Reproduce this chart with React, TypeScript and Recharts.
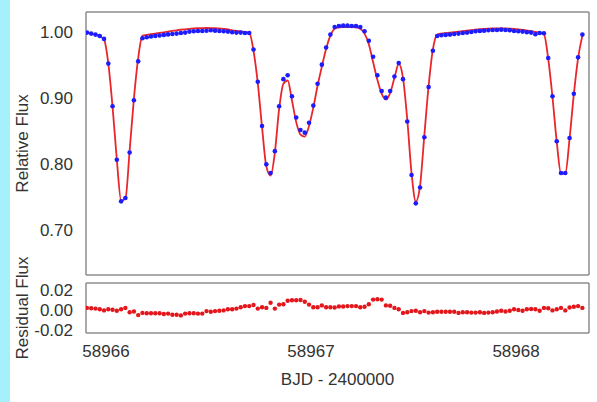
import React from 'react';
import { ComposedChart, Line, XAxis, YAxis } from 'recharts';

// BJD - 2400000, 30 min cadence
const bjd = [
  58965.907, 58965.9278, 58965.9487, 58965.9695, 58965.9903, 58966.0112, 58966.032, 58966.0528,
  58966.0737, 58966.0945, 58966.1153, 58966.1362, 58966.157, 58966.1778, 58966.1987, 58966.2195,
  58966.2403, 58966.2612, 58966.282, 58966.3028, 58966.3237, 58966.3445, 58966.3653, 58966.3862,
  58966.407, 58966.4278, 58966.4487, 58966.4695, 58966.4903, 58966.5112, 58966.532, 58966.5528,
  58966.5737, 58966.5945, 58966.6153, 58966.6362, 58966.657, 58966.6778, 58966.6987, 58966.7195,
  58966.7403, 58966.7612, 58966.782, 58966.8028, 58966.8237, 58966.8445, 58966.8653, 58966.8862,
  58966.907, 58966.9278, 58966.9487, 58966.9695, 58966.9903, 58967.0112, 58967.032, 58967.0528,
  58967.0737, 58967.0945, 58967.1153, 58967.1362, 58967.157, 58967.1778, 58967.1987, 58967.2195,
  58967.2403, 58967.2612, 58967.282, 58967.3028, 58967.3237, 58967.3445, 58967.3653, 58967.3862,
  58967.407, 58967.4278, 58967.4487, 58967.4695, 58967.4903, 58967.5112, 58967.532, 58967.5528,
  58967.5737, 58967.5945, 58967.6153, 58967.6362, 58967.657, 58967.6778, 58967.6987, 58967.7195,
  58967.7403, 58967.7612, 58967.782, 58967.8028, 58967.8237, 58967.8445, 58967.8653, 58967.8862,
  58967.907, 58967.9278, 58967.9487, 58967.9695, 58967.9903, 58968.0112, 58968.032, 58968.0528,
  58968.0737, 58968.0945, 58968.1153, 58968.1362, 58968.157, 58968.1778, 58968.1987, 58968.2195,
  58968.2403, 58968.2612, 58968.282, 58968.3028, 58968.3237,
];

const relFlux = [
  0.9995, 0.998, 0.9965, 0.9944, 0.99, 0.9526, 0.888, 0.807, 0.744, 0.749, 0.818, 0.897, 0.956,
  0.991, 0.9925, 0.9935, 0.9945, 0.9952, 0.996, 0.9968, 0.9975, 0.998, 0.9988, 0.9995, 1.001, 1.0015,
  1.002, 1.002, 1.0022, 1.003, 1.0025, 1.002, 1.0015, 1.001, 1.0, 0.9995, 0.9995, 0.999, 0.999,
  0.974, 0.925, 0.858, 0.8, 0.787, 0.82, 0.888, 0.929, 0.935, 0.903, 0.871, 0.852, 0.848, 0.863,
  0.889, 0.922, 0.951, 0.977, 0.9965,
  1.008, 1.0095, 1.01, 1.01, 1.0095, 1.0095, 1.008, 1.0015,
  0.987, 0.963, 0.935, 0.911, 0.901, 0.911, 0.933, 0.9535, 0.929, 0.865, 0.784, 0.741, 0.765, 0.841,
  0.917, 0.972, 0.9944,
  0.9955, 0.996, 0.9965, 0.9975, 0.998, 0.999, 0.9995, 1.0005, 1.0015, 1.002, 1.0025, 1.003, 1.0035,
  1.0035, 1.004, 1.0035, 1.003, 1.002, 1.0015, 1.001, 1.0, 0.9995, 0.997, 0.999, 0.9985,
  0.961, 0.903, 0.835, 0.787, 0.787, 0.84, 0.907, 0.962, 0.9965,
];

const modelFlux = [
  0.9995, 0.998, 0.9963, 0.994, 0.989, 0.953, 0.887, 0.807, 0.745, 0.748, 0.821, 0.9, 0.961,
  0.9948, 0.996, 0.997, 0.998, 0.999, 1.0, 1.001, 1.002, 1.003, 1.0038, 1.0045, 1.0052, 1.0057,
  1.0061, 1.0064, 1.0065, 1.0064, 1.0061, 1.0057, 1.0051, 1.0044, 1.003, 1.002, 1.0012, 1.0005, 0.9995,
  0.972, 0.923, 0.856, 0.797, 0.783, 0.818, 0.884, 0.922, 0.927, 0.897, 0.864, 0.845, 0.842, 0.858,
  0.886, 0.919, 0.948, 0.975, 0.995,
  1.0055, 1.0075, 1.008, 1.008, 1.008, 1.0075, 1.0055, 0.998,
  0.982, 0.955, 0.928, 0.907, 0.898, 0.908, 0.931, 0.952, 0.931, 0.868, 0.787, 0.744, 0.768, 0.844,
  0.919, 0.974, 0.9965,
  0.998, 0.9988, 0.9995, 1.0003, 1.001, 1.0018, 1.0026, 1.0034, 1.0041, 1.0047, 1.0052, 1.0056, 1.0059,
  1.006, 1.006, 1.0059, 1.0056, 1.0052, 1.0045, 1.0037, 1.0028, 1.0018, 1.0005, 0.9992, 0.997,
  0.96, 0.902, 0.834, 0.786, 0.786, 0.839, 0.906, 0.961, 0.995,
];

const residFlux = [
  0.0016, 0.0013, 0.0009, 0.0002, -0.0009, 0.0002, -0.0002, -0.0013, 0.0002, 0.0016, -0.0027, -0.002, -0.0056,
  -0.0034, -0.0038, -0.0038, -0.0038, -0.0038, -0.0045, -0.0041, -0.0052, -0.0052, -0.0059, -0.0041, -0.0038,
  -0.0038, -0.0041, -0.0041, -0.0016, -0.0023, -0.0016, -0.0013, -0.0009, 0.0002, 0.0002, 0.0009, 0.0023,
  0.0034, 0.0034,
  0.0045, 0.0009, 0.0023, 0.0016, 0.0067, 0.0009, 0.0049, 0.0052, 0.0088, 0.0092, 0.0092, 0.0095, 0.0077,
  0.0049, 0.0023, 0.0023, 0.0041, 0.0023, 0.0023, 0.002,
  0.0031, 0.003, 0.0034, 0.0034, 0.0034, 0.0023, 0.0027, 0.0052, 0.0099, 0.0102, 0.0099, 0.0041, 0.0038,
  0.0016, 0.0002, -0.0034, -0.0027, -0.0016, -0.0013, -0.0027, -0.0016, -0.0031, -0.0027, -0.0023, -0.0023,
  -0.0023, -0.0023, -0.0023, -0.0034, -0.0027, -0.0027, -0.0031, -0.0031, -0.0027, -0.0034, -0.0031, -0.0027,
  -0.002, -0.0013, -0.002, -0.0013, 0.0002, -0.0005, -0.0013, 0.0002, 0.0005, 0.0002, -0.0013, 0.0016,
  0.0013, -0.0009, 0.0002, 0.0016, -0.0009, 0.002, 0.0027, 0.0034, 0.0016,
];

const dayTicks = [58966, 58967, 58968];
const minorDayTicks = [
  58966, 58966.2, 58966.4, 58966.6, 58966.8, 58967, 58967.2, 58967.4, 58967.6, 58967.8, 58968, 58968.2,
];
const fluxTicks = [0.7, 0.8, 0.9, 1.0];
const minorFluxTicks = [
  0.64, 0.66, 0.68, 0.7, 0.72, 0.74, 0.76, 0.78, 0.8, 0.82, 0.84, 0.86, 0.88, 0.9, 0.92, 0.94, 0.96, 0.98,
  1.0, 1.02,
];
const residTicks = [-0.02, 0, 0.02];
const minorResidTicks = [-0.02, -0.01, 0, 0.01, 0.02];

const rows = bjd.map((t, i) => ({ t, obs: relFlux[i], model: modelFlux[i], resid: residFlux[i] }));

const X_DOMAIN: [number, number] = [58965.9024, 58968.356];
const FLUX_DOMAIN: [number, number] = [0.6325, 1.0307];
const RESID_DOMAIN: [number, number] = [-0.0235, 0.0265];

const FONT = "'Liberation Sans', Arial, Helvetica, sans-serif";
const FRAME = { stroke: '#8c8c8c', strokeWidth: 1.5 };
const TICK_LINE = { stroke: '#8c8c8c', strokeWidth: 1 };
const tickStyle = { fill: '#333', fontSize: 17, fontFamily: FONT };
const labelStyle = { fill: '#333', fontSize: 17, fontFamily: FONT, textAnchor: 'middle' as const };

// gnuplot-like box with inward ticks on all four sides
const frameAxes = (yDomain: [number, number], yMinor: number[]) => [
  <XAxis key="xb" xAxisId="xb" dataKey="t" type="number" orientation="bottom" mirror
    domain={X_DOMAIN} allowDataOverflow ticks={minorDayTicks} interval={0} tick={false} tickSize={4}
    axisLine={FRAME} tickLine={TICK_LINE} />,
  <XAxis key="xt" xAxisId="xt" dataKey="t" type="number" orientation="top" mirror
    domain={X_DOMAIN} allowDataOverflow ticks={minorDayTicks} interval={0} tick={false} tickSize={4}
    axisLine={FRAME} tickLine={TICK_LINE} />,
  <YAxis key="yl" yAxisId="yl" type="number" orientation="left" mirror
    domain={yDomain} allowDataOverflow ticks={yMinor} interval={0} tick={false} tickSize={4}
    axisLine={FRAME} tickLine={TICK_LINE} />,
  <YAxis key="yr" yAxisId="yr" type="number" orientation="right" mirror
    domain={yDomain} allowDataOverflow ticks={yMinor} interval={0} tick={false} tickSize={4}
    axisLine={FRAME} tickLine={TICK_LINE} />,
];

const BlueDot = (p: any) => <circle key={`o${p.index}`} cx={p.cx} cy={p.cy} r={2.3} fill="#1c1cff" />;
const RedDot = (p: any) => <circle key={`r${p.index}`} cx={p.cx} cy={p.cy} r={2.2} fill="#e3161c" />;

export default function App() {
  return (
    <div style={{ position: 'absolute', left: 0, top: 0, width: 597, height: 402, background: '#fff', fontFamily: FONT }}>
      <div style={{ position: 'absolute', left: 0, top: 0, width: 10, height: 402, background: '#a4f1fb' }} />
      <div style={{ position: 'absolute', left: 0, top: 0 }}>
        <ComposedChart width={597} height={402} data={rows} margin={{ top: 12, right: 8, bottom: 127, left: 0 }}>
          <YAxis yAxisId="yv" type="number" width={86} domain={FLUX_DOMAIN} allowDataOverflow
            ticks={fluxTicks} interval={0} tickFormatter={(v: number) => v.toFixed(2)} tick={tickStyle}
            tickLine={false} axisLine={false} tickSize={0} tickMargin={13}
            label={{ value: 'Relative Flux', angle: -90, position: 'insideLeft', offset: 22, style: labelStyle }} />
          {frameAxes(FLUX_DOMAIN, minorFluxTicks)}
          <Line xAxisId="xb" yAxisId="yl" dataKey="obs" stroke="none" dot={BlueDot} activeDot={false}
            isAnimationActive={false} />
          <Line xAxisId="xb" yAxisId="yl" dataKey="model" type="monotone" stroke="#e8262c" strokeWidth={1.8}
            dot={false} activeDot={false} isAnimationActive={false} />
        </ComposedChart>
      </div>
      <div style={{ position: 'absolute', left: 0, top: 0 }}>
        <ComposedChart width={597} height={402} data={rows} margin={{ top: 283, right: 8, bottom: 9, left: 0 }}>
          <XAxis xAxisId="xv" type="number" dataKey="t" orientation="bottom" height={60} domain={X_DOMAIN}
            allowDataOverflow ticks={dayTicks} interval={0} tickFormatter={(v: number) => String(v)} tick={tickStyle}
            tickLine={false} axisLine={false} tickSize={0} tickMargin={12}
            label={{ value: 'BJD - 2400000', position: 'insideBottom', offset: 8, style: labelStyle }} />
          <YAxis yAxisId="yv" type="number" width={86} domain={RESID_DOMAIN} allowDataOverflow
            ticks={residTicks} interval={0} tickFormatter={(v: number) => v.toFixed(2)} tick={tickStyle}
            tickLine={false} axisLine={false} tickSize={0} tickMargin={13}
            label={{ value: 'Residual Flux', angle: -90, position: 'insideLeft', offset: 22, style: labelStyle }} />
          {frameAxes(RESID_DOMAIN, minorResidTicks)}
          <Line xAxisId="xb" yAxisId="yl" dataKey="resid" stroke="none" dot={RedDot} activeDot={false}
            isAnimationActive={false} />
        </ComposedChart>
      </div>
    </div>
  );
}
